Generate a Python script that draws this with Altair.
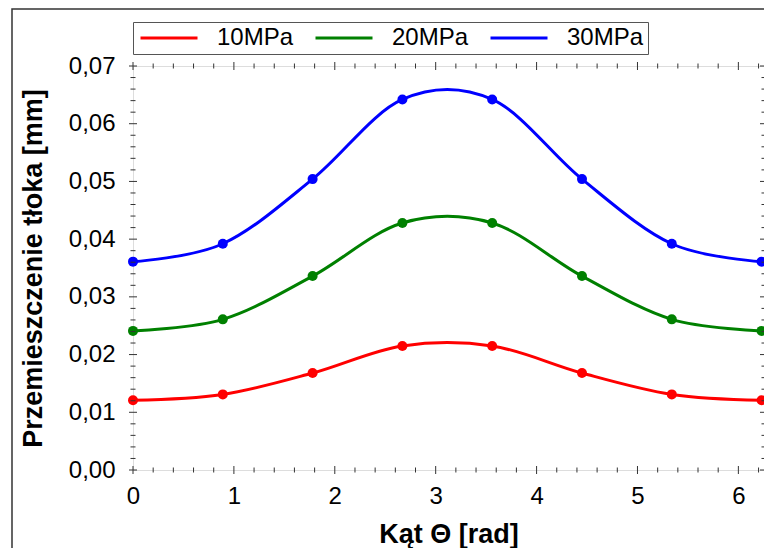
import altair as alt
import pandas as pd

# ---- data ----
theta = [0.0, 0.89, 1.78, 2.67, 3.56, 4.45, 5.34, 6.23]
p10 = [0.0121, 0.0131, 0.0168, 0.0215, 0.0215, 0.0168, 0.0131, 0.0121]
p20 = [0.0241, 0.0261, 0.0336, 0.0428, 0.0428, 0.0336, 0.0261, 0.0241]
p30 = [0.0361, 0.0392, 0.0504, 0.0642, 0.0642, 0.0504, 0.0392, 0.0361]
series = ["10MPa", "20MPa", "30MPa"]
colors = ["#ff0000", "#008000", "#0000ff"]

x_major = [0, 1, 2, 3, 4, 5, 6]
x_minor = [round(i * 0.2, 1) for i in range(32) if i % 5 != 0]
y_major = [0.00, 0.01, 0.02, 0.03, 0.04, 0.05, 0.06, 0.07]
y_minor = [round(i * 0.002, 3) for i in range(36) if i % 5 != 0]

rows = []
for name, vals in zip(series, [p10, p20, p30]):
    for t, v in zip(theta, vals):
        rows.append({"theta": t, "value": v, "series": name})
df = pd.DataFrame(rows)

FONT = "Liberation Sans"
AX = "#333333"
W, H = 631, 404

xs = alt.Scale(domain=[0, 6.254], nice=False, zero=False)
ys = alt.Scale(domain=[0, 0.07], nice=False, zero=True)
cs = alt.Scale(domain=series, range=colors)

base = alt.Chart(df)

x_main = alt.Axis(orient="bottom", values=x_major, format="d", ticks=False, tickSize=0,
                  domain=False, grid=False, labelFlush=False, labelPadding=14,
                  labelFontSize=24, labelFont=FONT, labelColor="black",
                  title="Kąt Θ [rad]", titleFont=FONT, titleFontSize=27,
                  titleFontWeight="bold", titleColor="black", titlePadding=13)
y_main = alt.Axis(orient="left", values=y_major, ticks=False, tickSize=0, domain=False,
                  grid=False, labelFlush=False,
                  labelExpr="replace(format(datum.value, '.2f'), '.', ',')",
                  labelPadding=18, labelFontSize=24, labelFont=FONT, labelColor="black",
                  title="Przemieszczenie tłoka [mm]", titleFont=FONT, titleFontSize=27,
                  titleFontWeight="bold", titleColor="black", titlePadding=21)

legend = alt.Legend(orient="none", legendX=0, legendY=-44, direction="horizontal",
                    title=None, symbolType="M-3.35,0M-2.85,0H2.85", symbolSize=400,
                    symbolStrokeWidth=3, symbolOffset=20,
                    labelFontSize=24, labelFont=FONT, labelColor="black", labelOffset=36,
                    columnPadding=10, padding=4, strokeColor="#555555", fillColor="white")

lines = base.mark_line(interpolate="cardinal", strokeWidth=3).encode(
    x=alt.X("theta:Q", scale=xs, axis=x_main),
    y=alt.Y("value:Q", scale=ys, axis=y_main),
    color=alt.Color("series:N", scale=cs, legend=legend),
)

points = base.mark_circle(size=100, opacity=1).encode(
    x=alt.X("theta:Q", scale=xs, axis=None),
    y=alt.Y("value:Q", scale=ys, axis=None),
    color=alt.Color("series:N", scale=cs, legend=None),
)


def xticks(values, y0, y1):
    return alt.Chart(pd.DataFrame({"v": values})).mark_rule(color=AX, strokeWidth=1).encode(
        x=alt.X("v:Q", scale=xs, axis=None), y=alt.value(y0), y2=alt.value(y1)
    )


def yticks(values, x0, x1):
    return alt.Chart(pd.DataFrame({"v": values})).mark_rule(color=AX, strokeWidth=1).encode(
        y=alt.Y("v:Q", scale=ys, axis=None), x=alt.value(x0), x2=alt.value(x1)
    )


ticks = [
    xticks(x_major, H - 4, H + 4), xticks(x_minor, H - 2.5, H + 2.5),
    xticks(x_major, -4, 4), xticks(x_minor, -2.5, 2.5),
    yticks(y_major, -4, 4), yticks(y_minor, -2.5, 2.5),
    yticks(y_major, W - 4, W + 4), yticks(y_minor, W - 2.5, W + 2.5),
]

frame = alt.Chart(pd.DataFrame({"k": [0]})).mark_rect(
    fillOpacity=0, stroke=AX, strokeWidth=1.5
).encode(
    x=alt.value(-121), x2=alt.value(900), y=alt.value(-57), y2=alt.value(800)
)

chart = alt.layer(lines, points, frame, *ticks).resolve_axis(
    x="independent", y="independent"
).properties(
    width=W, height=H,
    autosize=alt.AutoSizeParams(type="none"),
    padding={"left": 125, "top": 58, "right": 0, "bottom": 78},
).configure_view(
    stroke=AX, strokeWidth=1
).configure(background="white")

chart.save("out.html", embed_options={"renderer": "svg", "actions": False})
